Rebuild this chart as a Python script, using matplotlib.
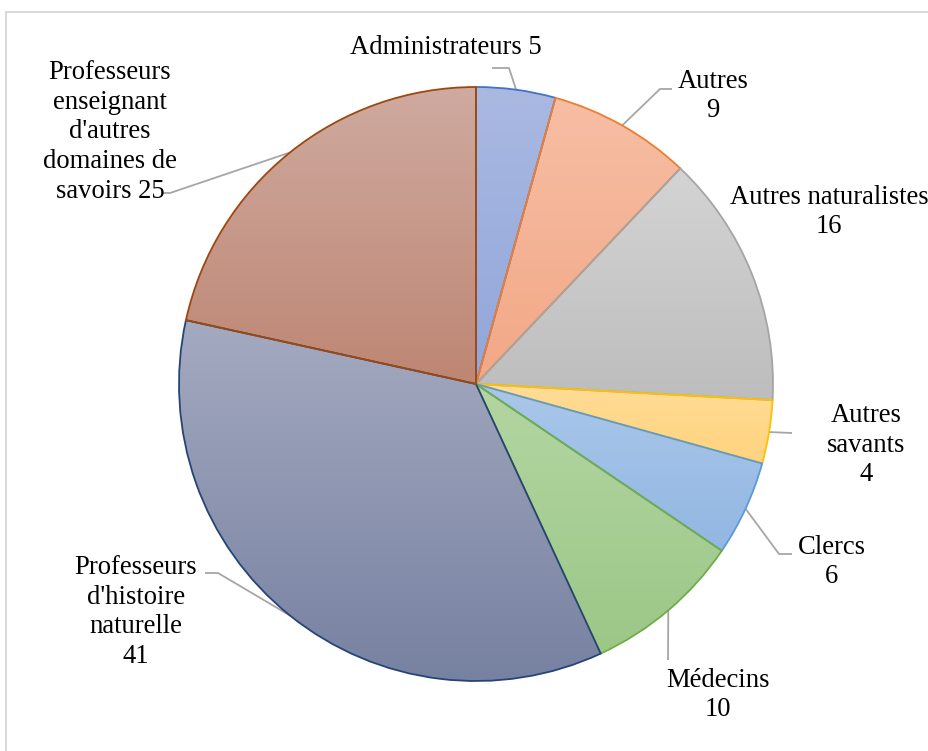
import numpy as np
import matplotlib
matplotlib.use("Agg")
import matplotlib.pyplot as plt
from matplotlib.colors import LinearSegmentedColormap
from matplotlib.patches import Rectangle

# données
categories = ["Administrateurs", "Autres", "Autres naturalistes", "Autres savants",
              "Clercs", "Médecins", "Professeurs d'histoire naturelle",
              "Professeurs enseignant d'autres domaines de savoirs"]
valeurs = [5, 9, 16, 4, 6, 10, 41, 25]
etiquettes = ["Administrateurs 5", "Autres\n9", "Autres naturalistes\n16",
              "Autres\nsavants\n4", "Clercs\n6", "Médecins\n10",
              "Professeurs\nd'histoire\nnaturelle\n41",
              "Professeurs\nenseignant\nd'autres\ndomaines de\nsavoirs 25"]

# couleurs (haut du dégradé, bas du dégradé, bordure)
haut = ["#AAB9E2", "#F7BEA4", "#D4D4D4", "#FFDC96", "#AAC7EA", "#B4D6A2", "#A4AAC0", "#CFAAA0"]
bas = ["#91A6DA", "#F2A886", "#BDBDBD", "#FFD37E", "#92B7E2", "#9BC787", "#7781A1", "#BE8673"]
bords = ["#4472C4", "#ED7D31", "#A5A5A5", "#FFC000", "#5B9BD5", "#70AD47", "#264478", "#9E480E"]

W, H = 929, 751
CX, CY, R = 476, 384, 297  # centre et rayon en pixels (y vers le bas)


def py(y):
    return H - y


plt.rcParams["font.family"] = ["Liberation Serif", "DejaVu Serif"]

fig = plt.figure(figsize=(W / 100, H / 100), dpi=100)
ax = fig.add_axes([0, 0, 1, 1])

wedges, _ = ax.pie(valeurs, startangle=90, counterclock=False,
                   center=(CX, py(CY)), radius=R,
                   wedgeprops=dict(linewidth=1.3))
ax.set_xlim(0, W)
ax.set_ylim(0, H)
ax.set_aspect("equal")
ax.axis("off")

# dégradé vertical dans chaque secteur
for w, c1, c2, ec in zip(wedges, haut, bas, bords):
    w.set_facecolor("none")
    w.set_edgecolor(ec)
    w.set_zorder(3)
    ext = w.get_path().get_extents(w.get_patch_transform())
    cmap = LinearSegmentedColormap.from_list("g", [c2, c1])
    grad = np.linspace(0, 1, 256).reshape(-1, 1)
    im = ax.imshow(grad, cmap=cmap, origin="lower", aspect="auto",
                   extent=(ext.x0, ext.x1, ext.y0, ext.y1), zorder=2)
    im.set_clip_path(w)

# étiquettes (centre du texte) et coudes des lignes de rappel, en pixels
pos_texte = [(446, 47), (713, 96), (829, 212), (866, 445), (832, 562),
             (718, 695), (136, 612), (110, 132)]
coudes = [[(509, 68), (492, 68)], [(660, 89), (672, 89)], None,
          [(792, 433)], [(779, 554), (792, 554)], [(668, 660)],
          [(218, 573), (205, 573)], [(170, 193), (163, 193)]]

cum = np.cumsum(valeurs)
total = cum[-1]
for i, lab in enumerate(etiquettes):
    mid = (cum[i] - valeurs[i] / 2) / total * 2 * np.pi
    ex, ey = CX + R * np.sin(mid), CY - R * np.cos(mid)
    if coudes[i]:
        pts = [(ex, ey)] + coudes[i]
        xs = [p[0] for p in pts]
        ys = [py(p[1]) for p in pts]
        ax.plot(xs, ys, color="#A6A6A6", lw=1.3, zorder=1, solid_capstyle="butt")
    tx, ty = pos_texte[i]
    ax.text(tx, py(ty), lab, ha="center", va="center", fontsize=19.2,
            linespacing=1.25, color="black", zorder=4)

# cadre du graphique
fig.patches.append(Rectangle((6 / W, -0.1), 2, (H - 12) / H + 0.1,
                             transform=fig.transFigure, fill=False,
                             edgecolor="#D9D9D9", lw=1.5, clip_on=False))

fig.savefig("out.png", dpi=100)
